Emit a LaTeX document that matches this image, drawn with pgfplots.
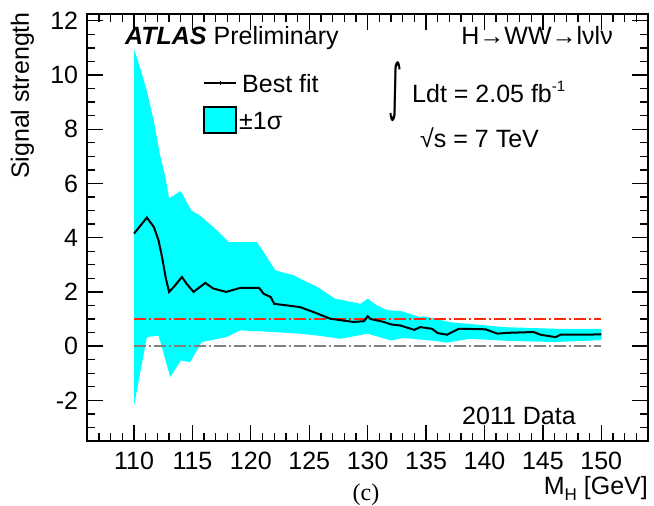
\documentclass[border=0pt]{standalone}
\usepackage{fontspec}
\setmainfont{Liberation Sans}
\newfontfamily\dejavu{DejaVu Sans}
\newfontfamily\serifc{Liberation Serif}
\usepackage{pgfplots}
\pgfplotsset{compat=1.18}
\definecolor{bandcyan}{RGB}{0,255,255}
\definecolor{fitred}{RGB}{255,40,10}
\definecolor{zerogray}{RGB}{128,128,128}
\begin{document}
\fontsize{25}{30}\selectfont
\begin{tikzpicture}
\useasboundingbox (-87.3pt,-65pt) rectangle (566.7pt,441pt);
\begin{axis}[
  scale only axis, width=560.7pt, height=427pt,
  at={(0pt,0pt)}, anchor=south west,
  xmin=106, xmax=154, ymin=-3.5, ymax=12.25,
  xtick={110,115,...,150}, ytick={-2,0,...,12},
  minor xtick={107,108,...,153}, minor ytick={-3.5,-3,...,12},
  tick align=inside,
  major tick length=16pt, minor tick length=8pt,
  every tick/.style={black, line width=1.3pt},
  axis line style={line width=1.6pt},
  ticklabel style={font=\fontsize{25}{30}\selectfont},
  /pgf/number format/assume math mode=true,
  xticklabel style={inner sep=0pt, yshift=-11pt},
  yticklabel style={inner sep=0pt, xshift=-9pt},
  clip=false,
]
% +-1 sigma band (upper edge left->right, lower edge right->left)
\addplot[fill=bandcyan, draw=none] coordinates {
 (110,10.95) (110.5,10.3) (111.1,9.4) (111.7,8.3) (112.2,7.1) (112.7,6.2) (113.0,5.45)
 (114.0,5.72) (114.9,5.0) (115.7,4.8) (117.1,4.27) (118.1,3.84) (120.5,3.84) (121.1,3.47)
 (122.1,2.79) (123.7,2.61) (124.2,2.49) (125.7,2.18) (127.2,1.75) (129.4,1.56) (130.0,1.75)
 (130.8,1.5) (131.7,1.32) (132.8,1.3) (134.5,1.07) (134.8,1.1) (137.1,0.88) (141.7,0.70)
 (146.0,0.64) (150,0.64)
 (150,0.22) (146.0,0.15) (141.7,0.2) (138.8,0.27) (136.8,0.13) (136.0,0.18) (133.1,0.3)
 (132.0,0.21) (130.0,0.46) (127.7,0.27) (125.7,0.39) (124.2,0.46) (121.9,0.52) (119.1,0.58)
 (117.9,0.33) (115.8,0.15) (114.8,-0.59) (114.0,-0.53) (113.1,-1.14) (112.1,0.39) (111.1,0.33)
 (110,-2.2)
};
% reference lines
\addplot[fitred, line width=1.5pt, dash pattern=on 12pt off 3pt on 2pt off 3pt] coordinates {(110,1) (150,1)};
\addplot[zerogray, line width=1.5pt, dash pattern=on 12pt off 3pt on 2pt off 3pt] coordinates {(110,0) (150,0)};
% best fit
\addplot[black, line width=2pt] coordinates {
 (110.0,4.15) (111.1,4.74) (111.7,4.39) (112.1,3.9) (112.4,3.28) (112.7,2.55) (113.0,2.0)
 (113.4,2.18) (114.1,2.55) (114.5,2.3) (115.1,2.0) (116.1,2.33) (116.8,2.12) (117.9,2.0)
 (119.1,2.15) (120.7,2.15) (121.1,1.93) (121.7,1.81) (122.0,1.56) (123.1,1.50) (124.2,1.44)
 (125.4,1.25) (126.8,1.01) (128.8,0.89) (129.7,0.92) (130.0,1.10) (130.25,1.0) (131.4,0.89)
 (132.0,0.8) (132.8,0.76) (134.0,0.6) (134.5,0.70) (135.5,0.64) (136.0,0.48) (136.8,0.42)
 (137.8,0.64) (140.1,0.62) (141.1,0.46) (142.0,0.49) (144.2,0.52) (144.8,0.42) (146.1,0.33)
 (146.5,0.42) (150.0,0.43)
};
\end{axis}
% texts
\node[anchor=base west, inner sep=0pt] at (37.7pt,396pt) {{\bfseries\itshape ATLAS} Preliminary};
\node[anchor=base east, inner sep=0pt] at (525.7pt,396pt) {H→WW→lνlν};
\node[inner sep=0pt] at (307.7pt,349pt) {\resizebox*{14pt}{60pt}{\dejavu ∫}};
\node[anchor=base west, inner sep=0pt] at (324.7pt,338pt) {Ldt = 2.05 fb\raisebox{11pt}{\fontsize{15}{15}\selectfont -1}};
\node[anchor=base west, inner sep=0pt] at (332.7pt,293pt) {√s = 7 TeV};
\node[anchor=base west, inner sep=0pt] at (374.7pt,16pt) {2011 Data};
% legend
\draw[black, line width=1.8pt] (116.7pt,358pt) -- (148.7pt,358pt);
\draw[black, line width=1pt] (132.7pt,356pt) -- (132.7pt,360pt);
\node[anchor=base west, inner sep=0pt] at (154.7pt,348pt) {Best fit};
\draw[fill=bandcyan, draw=black, line width=1.5pt] (116.7pt,308pt) rectangle (148.7pt,334pt);
\node[anchor=base west, inner sep=0pt] at (151.7pt,311pt) {±1σ};
% axis titles
\node[rotate=90, anchor=base east, inner sep=0pt] at (-58.3pt,429pt) {Signal strength};
\node[anchor=base east, inner sep=0pt] at (560.7pt,-54pt) {M\raisebox{-6pt}{\fontsize{17}{17}\selectfont H} [GeV]};
\node[anchor=base, inner sep=0pt] at (278.7pt,-60pt) {\serifc\fontsize{24}{24}\selectfont (c)};
\end{tikzpicture}
\end{document}
